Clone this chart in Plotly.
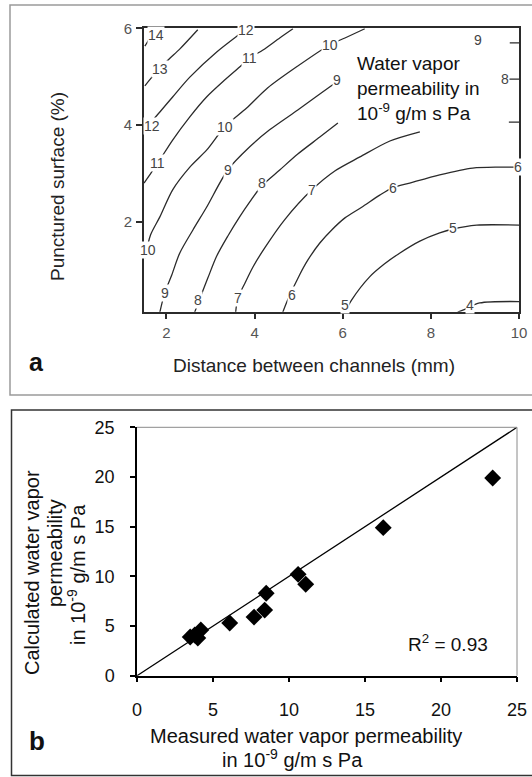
import plotly.graph_objects as go

W, H = 532, 777

# ---------------- Panel a : contour lines ----------------
contour_levels = [14, 13, 12, 11, 10, 9, 8, 7, 6, 5, 4]
c14_x = [1.51, 1.62, 1.71]
c14_y = [5.63, 5.80, 5.965]
c13_x = [1.51, 1.69, 1.85, 2.03, 2.30, 2.71]
c13_y = [4.81, 5.01, 5.16, 5.34, 5.57, 5.97]
c12_x = [1.49, 1.67, 1.85, 2.14, 2.53, 3.14, 3.66, 3.82]
c12_y = [3.86, 4.08, 4.27, 4.58, 4.99, 5.51, 5.88, 5.99]
c11_x = [1.49, 1.62, 1.80, 2.14, 2.53, 2.91, 3.32, 3.66, 3.89, 4.19, 4.57, 4.87]
c11_y = [2.80, 2.97, 3.21, 3.69, 4.17, 4.58, 4.93, 5.20, 5.39, 5.55, 5.80, 5.99]
c10_x = [1.51, 1.64, 1.85, 2.14, 2.53, 2.91, 3.32, 3.82, 4.30, 4.98, 5.71, 6.05, 6.50]
c10_y = [1.25, 1.73, 2.10, 2.66, 3.13, 3.48, 3.96, 4.35, 4.77, 5.22, 5.66, 5.80, 5.99]
c9_x = [1.85, 1.96, 2.12, 2.30, 2.60, 2.91, 3.39, 3.89, 4.34, 4.98, 5.48, 5.86, None, 9.79, 10.0]
c9_y = [0.13, 0.53, 0.90, 1.35, 1.83, 2.30, 3.07, 3.55, 3.90, 4.31, 4.64, 4.89, None, 5.70, 5.70]
c8_x = [2.64, 2.76, 2.94, 3.14, 3.39, 3.66, 3.89, 4.16, 4.57, 4.98, 5.48, 5.89, None, 9.77, 10.0]
c8_y = [0.13, 0.42, 0.84, 1.29, 1.70, 2.10, 2.41, 2.74, 3.07, 3.40, 3.75, 4.04, None, 4.95, 4.95]
c7_x = [3.57, 3.62, 3.78, 3.96, 4.23, 4.68, 5.30, 5.82, 6.39, 7.07, 7.75, None, 9.77, 10.0]
c7_y = [0.13, 0.42, 0.73, 1.06, 1.46, 2.04, 2.66, 3.05, 3.34, 3.67, 3.86, None, 4.06, 4.06]
c6_x = [4.64, 4.75, 5.02, 5.21, 5.48, 5.75, 6.05, 6.43, 6.84, 7.13, 7.52, 8.20, 8.95, 9.56, 10.0]
c6_y = [0.13, 0.38, 0.90, 1.21, 1.56, 1.83, 2.08, 2.30, 2.55, 2.70, 2.80, 2.97, 3.11, 3.13, 3.13]
c5_x = [6.05, 6.20, 6.61, 6.95, 7.29, 7.75, 8.20, 8.50, 9.04, 10.0]
c5_y = [0.13, 0.38, 0.86, 1.13, 1.35, 1.60, 1.77, 1.85, 1.93, 1.93]
c4_x = [8.61, 8.77, 9.11, 10.0]
c4_y = [0.13, 0.19, 0.32, 0.35]

contour_x = [c14_x, c13_x, c12_x, c11_x, c10_x, c9_x, c8_x, c7_x, c6_x, c5_x, c4_x]
contour_y = [c14_y, c13_y, c12_y, c11_y, c10_y, c9_y, c8_y, c7_y, c6_y, c5_y, c4_y]

label_text = ["14", "13", "12", "12", "11", "11", "10", "10", "10", "9", "9", "9", "9",
              "8", "8", "8", "7", "7", "6", "6", "6", "5", "5", "4"]
label_x = [1.76, 1.85, 1.67, 3.80, 1.80, 3.89, 1.58, 3.32, 5.71, 1.96, 3.39, 5.86, 9.06,
           2.71, 4.16, 9.68, 3.62, 5.30, 4.84, 7.13, 9.97, 6.05, 8.50, 8.88]
label_y = [5.86, 5.16, 3.98, 5.97, 3.21, 5.39, 1.41, 3.96, 5.66, 0.53, 3.07, 4.93, 5.76,
           0.38, 2.80, 4.95, 0.42, 2.66, 0.49, 2.70, 3.13, 0.28, 1.87, 0.28]

a_xticks = [2, 4, 6, 8, 10]
a_yticks = [2, 4, 6]

# ---------------- Panel b : scatter ----------------
measured = [3.5, 3.8, 4.0, 4.2, 6.1, 7.7, 8.4, 8.5, 10.6, 11.1, 16.2, 23.4]
calculated = [3.9, 4.1, 3.8, 4.6, 5.3, 5.9, 6.6, 8.3, 10.2, 9.2, 14.9, 19.9]
identity = [0, 25]
b_ticks = [0, 5, 10, 15, 20, 25]

FONT = "Arial, Liberation Sans, sans-serif"


def px(x):
    return x / W


def py(y):
    return 1 - y / H


fig = go.Figure()

for lev, xs, ys in zip(contour_levels, contour_x, contour_y):
    fig.add_trace(go.Scatter(x=xs, y=ys, mode="lines", line=dict(color="#2b2b2b", width=1.3, shape="spline", smoothing=0.8),
                             xaxis="x", yaxis="y", showlegend=False, hoverinfo="skip", name=str(lev)))

fig.add_trace(go.Scatter(x=identity, y=identity, mode="lines", line=dict(color="black", width=1.3),
                         xaxis="x2", yaxis="y2", showlegend=False))
fig.add_trace(go.Scatter(x=measured, y=calculated, mode="markers",
                         marker=dict(symbol="diamond", size=13, color="black"),
                         xaxis="x2", yaxis="y2", showlegend=False, cliponaxis=False))

annotations = []
for t, x, y in zip(label_text, label_x, label_y):
    annotations.append(dict(x=x, y=y, xref="x", yref="y", text=t, showarrow=False,
                            font=dict(family=FONT, size=14, color="#444"), bgcolor="white", borderpad=0))

def txt(text, x, y, size, color="#111", angle=0, xanchor="center", yanchor="middle", bold=False):
    if bold:
        text = "<b>" + text + "</b>"
    annotations.append(dict(x=px(x), y=py(y), xref="paper", yref="paper", text=text, showarrow=False,
                            textangle=angle, xanchor=xanchor, yanchor=yanchor,
                            font=dict(family=FONT, size=size, color=color)))

# panel a texts
txt("Water vapor", 355, 63, 19, xanchor="left")
txt("permeability in", 355, 88, 19, xanchor="left")
txt("10<sup>-9</sup> g/m s Pa", 355, 112, 19, xanchor="left")
txt("Distance between channels (mm)", 314, 366, 19, color="#222")
txt("Punctured surface (%)", 57, 187, 19, color="#222", angle=-90)
txt("a", 36, 362, 25, color="#111", bold=True)

# panel b texts
txt("Measured water vapor permeability", 306, 736, 20)
txt("in 10<sup>-9</sup> g/m s Pa", 292, 758, 20)
txt("Calculated water vapor", 32, 573, 20, angle=-90)
txt("permeability", 55, 553, 20, angle=-90)
txt("in 10<sup>-9</sup> g/m s Pa", 76, 575, 20, angle=-90)
txt("R<sup>2</sup> = 0.93", 448, 643, 19)
txt("b", 37, 741, 26, bold=True)

shapes = [
    dict(type="rect", xref="paper", yref="paper", x0=px(10), x1=1.05, y0=py(395), y1=py(5),
         line=dict(color="#9a9a9a", width=1.5)),
    dict(type="rect", xref="paper", yref="paper", x0=px(11.5), x1=1.05, y0=py(775.5), y1=py(410),
         line=dict(color="#333", width=1.5)),
    dict(type="line", xref="x2 domain", yref="y2 domain", x0=0, x1=1, y0=1, y1=1, line=dict(color="#8a8a8a", width=1)),
    dict(type="line", xref="x2 domain", yref="y2 domain", x0=1, x1=1, y0=0, y1=1, line=dict(color="#8a8a8a", width=1)),
]

axis_a = dict(showgrid=False, zeroline=False, showline=True, linecolor="#2b2b2b", linewidth=2, mirror=True,
              ticks="outside", tickcolor="#2b2b2b", tickwidth=1.5, automargin=False,
              tickfont=dict(family=FONT, size=15, color="#555"))
axis_b = dict(showgrid=False, zeroline=False, showline=True, linecolor="black", linewidth=1.5, mirror=False,
              ticks="outside", tickcolor="black", tickwidth=1.5, ticklen=5, automargin=False,
              tickfont=dict(family=FONT, size=18, color="#111"))

fig.update_layout(
    width=W, height=H, margin=dict(l=0, r=0, t=0, b=0, autoexpand=False),
    paper_bgcolor="white", plot_bgcolor="white",
    xaxis=dict(axis_a, domain=[px(144), px(519)], range=[1.49, 10], tickvals=a_xticks, ticklen=5,
               anchor="y", ticklabelstandoff=1),
    yaxis=dict(axis_a, domain=[py(311.7), py(28.3)], range=[0.14, 6], tickvals=a_yticks, ticklen=6,
               anchor="x", ticklabelstandoff=1),
    xaxis2=dict(axis_b, domain=[px(137), px(517)], range=[0, 25], tickvals=b_ticks, anchor="y2",
                ticklabelstandoff=12),
    yaxis2=dict(axis_b, domain=[py(675.7), py(427.3)], range=[0, 25], tickvals=b_ticks, anchor="x2",
                ticklabelstandoff=12),
    annotations=annotations, shapes=shapes, showlegend=False,
)

fig.write_html("out.html")
